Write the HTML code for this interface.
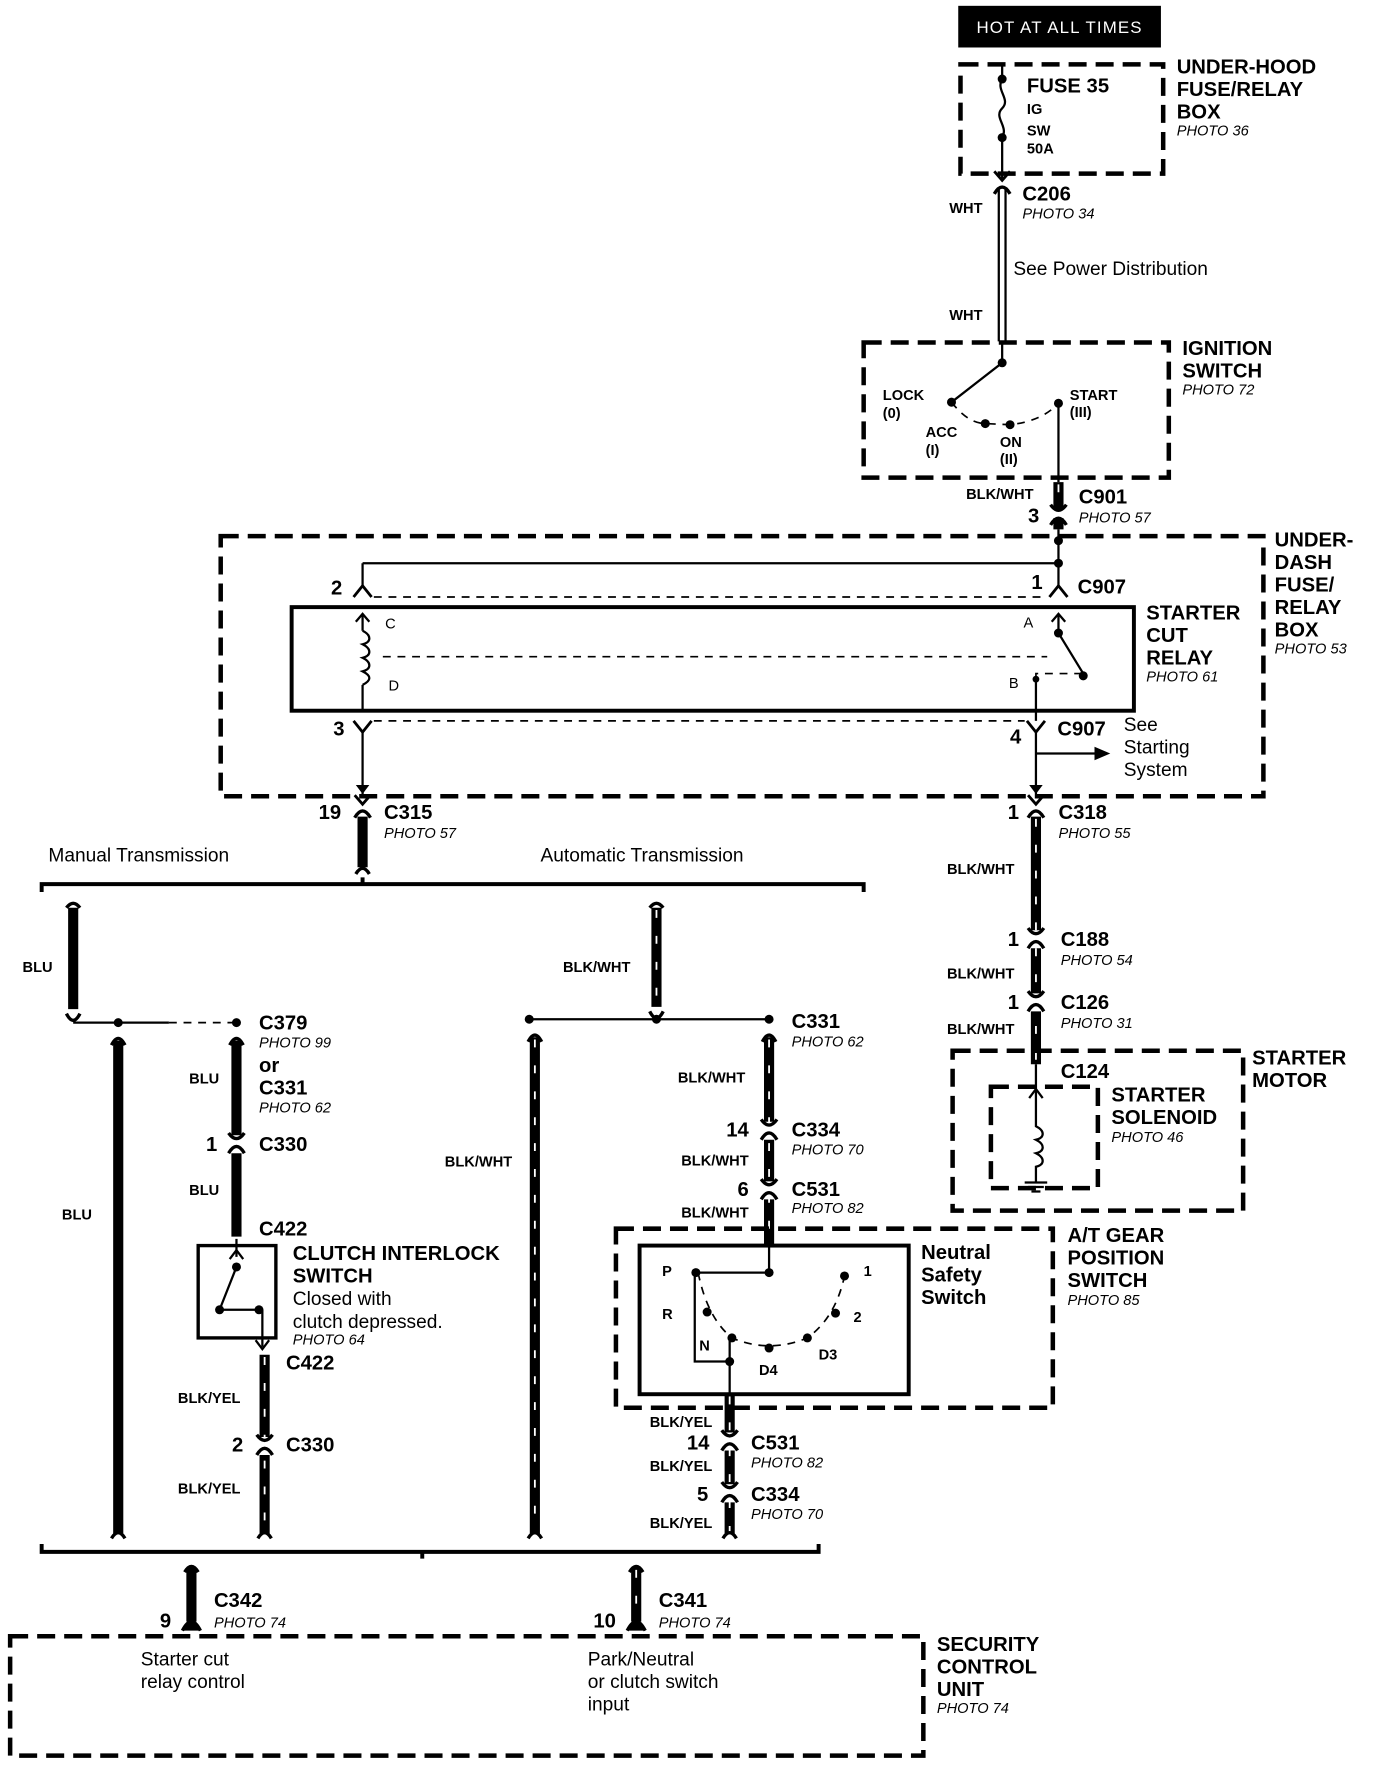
<!DOCTYPE html>
<html><head><meta charset="utf-8"><style>
html,body{margin:0;padding:0;background:#fff}
svg{display:block}
text{font-family:"Liberation Sans",Arial,sans-serif;fill:#000}
.b{font-weight:bold;font-size:18px}
.s{font-weight:bold;font-size:13px}
.i{font-style:italic;font-size:13px}
.n{font-size:17px}
.w{fill:none;stroke:#000;stroke-width:2}
.t{fill:none;stroke:#000;stroke-width:9}
.st{fill:none;stroke:#fff;stroke-width:1.6;stroke-dasharray:7 16}
.d{fill:none;stroke:#000;stroke-width:4;stroke-dasharray:16 8}
.da{fill:none;stroke:#000;stroke-width:1.5;stroke-dasharray:7 6}
</style></head><body>
<svg width="1376" height="1766" viewBox="0 0 1222 1568" xmlns="http://www.w3.org/2000/svg">
<defs>
<g id="c"><path d="M-7,-8 L0,0 L7,-8" fill="none" stroke="#000" stroke-width="2.5"/><path d="M-7,12 Q0,0 7,12" fill="none" stroke="#000" stroke-width="3"/></g>
<g id="ct"><path d="M-7,-6 Q0,4 7,-6" fill="none" stroke="#000" stroke-width="3"/><path d="M-7,12 Q0,0 7,12" fill="none" stroke="#000" stroke-width="3"/></g>
</defs>

<!-- HOT -->
<rect x="851" y="5" width="180" height="37" fill="#000"/>
<text x="941" y="29" text-anchor="middle" style="fill:#fff;font-size:15px;letter-spacing:1px">HOT AT ALL TIMES</text>

<!-- under-hood -->
<rect x="853" y="57" width="180" height="97" class="d"/>
<path class="w" d="M890,57 V70 M890,70 C884,80 898,88 890,96 C882,104 896,112 890,122 V158"/>
<circle cx="890" cy="70" r="4"/><circle cx="890" cy="122" r="4"/>
<text x="912" y="82" class="b">FUSE 35</text>
<text x="912" y="101" class="s">IG</text><text x="912" y="120" class="s">SW</text><text x="912" y="136" class="s">50A</text>
<text x="1045" y="65" class="b">UNDER-HOOD</text><text x="1045" y="85" class="b">FUSE/RELAY</text><text x="1045" y="105" class="b">BOX</text><text x="1045" y="120" class="i">PHOTO 36</text>
<use href="#c" x="890" y="160"/>
<text x="908" y="178" class="b">C206</text><text x="908" y="194" class="i">PHOTO 34</text>
<path class="w" d="M887,168 V303 M893,168 V303"/>
<text x="843" y="189" class="s">WHT</text><text x="843" y="284" class="s">WHT</text>
<text x="900" y="244" class="n">See Power Distribution</text>

<!-- ignition -->
<rect x="767" y="304" width="271" height="120" class="d"/>
<path class="w" d="M890,303 V322 L845,357"/>
<circle cx="890" cy="322" r="4"/><circle cx="845" cy="357" r="4"/>
<path class="da" d="M845,357 Q860,376 875,376 L897,377 Q925,374 940,358"/>
<circle cx="875" cy="376" r="4"/><circle cx="897" cy="377" r="4"/><circle cx="940" cy="358" r="4"/>
<path class="w" d="M940,358 V428"/>
<text x="784" y="355" class="s">LOCK</text><text x="784" y="371" class="s">(0)</text>
<text x="822" y="388" class="s">ACC</text><text x="822" y="404" class="s">(I)</text>
<text x="888" y="397" class="s">ON</text><text x="888" y="412" class="s">(II)</text>
<text x="950" y="355" class="s">START</text><text x="950" y="370" class="s">(III)</text>
<text x="1050" y="315" class="b">IGNITION</text><text x="1050" y="335" class="b">SWITCH</text><text x="1050" y="350" class="i">PHOTO 72</text>
<path class="t" d="M940,428 V452 M940,460 V470"/><path class="st" d="M940,430 V470"/>
<use href="#ct" x="940" y="454"/>
<text x="858" y="443" class="s">BLK/WHT</text><text x="958" y="447" class="b">C901</text><text x="913" y="464" class="b">3</text><text x="958" y="464" class="i">PHOTO 57</text>

<!-- under-dash -->
<rect x="196" y="476" width="926" height="231" class="d"/>
<text x="1132" y="485" class="b">UNDER-</text><text x="1132" y="505" class="b">DASH</text><text x="1132" y="525" class="b">FUSE/</text><text x="1132" y="545" class="b">RELAY</text><text x="1132" y="565" class="b">BOX</text><text x="1132" y="580" class="i">PHOTO 53</text>
<path class="w" d="M940,470 V522 M322,500 H940 M322,500 V522"/>
<circle cx="940" cy="480" r="4"/><circle cx="940" cy="500" r="4"/>
<path d="M314,530 L322,520 L330,530 M932,530 L940,520 L948,530" fill="none" stroke="#000" stroke-width="2.5"/>
<path class="da" d="M332,530 H930"/>
<text x="294" y="528" class="b">2</text><text x="916" y="523" class="b">1</text><text x="957" y="527" class="b">C907</text>
<rect x="259" y="539" width="748" height="92" fill="none" stroke="#000" stroke-width="3.5"/>
<path class="w" d="M322,545 V560 M322,608 V630"/>
<path d="M316,552 L322,545 L328,552" fill="none" stroke="#000" stroke-width="2"/>
<path class="w" d="M322,560 c8,4 8,10 0,12 c8,4 8,10 0,12 c8,4 8,10 0,12 c8,4 8,8 0,12"/>
<text x="342" y="558" class="s" style="font-weight:normal">C</text><text x="345" y="613" class="s" style="font-weight:normal">D</text>
<text x="909" y="557" class="s" style="font-weight:normal">A</text><text x="896" y="611" class="s" style="font-weight:normal">B</text>
<path class="da" d="M340,583 H930"/>
<path class="w" d="M940,545 V562 L962,598"/>
<path d="M934,552 L940,545 L946,552" fill="none" stroke="#000" stroke-width="2"/>
<circle cx="940" cy="562" r="4"/><circle cx="962" cy="600" r="4"/>
<path class="da" d="M920,603 L920,598 H962"/>
<circle cx="920" cy="603" r="3"/>
<path class="w" d="M920,603 V640"/>
<text x="1018" y="550" class="b">STARTER</text><text x="1018" y="570" class="b">CUT</text><text x="1018" y="590" class="b">RELAY</text><text x="1018" y="605" class="i">PHOTO 61</text>
<path d="M314,640 L322,650 L330,640 M912,640 L920,650 L928,640" fill="none" stroke="#000" stroke-width="2.5"/>
<path class="da" d="M332,640 H910"/>
<path class="w" d="M322,650 V705 M920,650 V705 M920,669 H975"/>
<path d="M316,697 L322,705 L328,697 M914,697 L920,705 L926,697"/>
<path d="M972,663 L986,669 L972,675 Z"/>
<text x="296" y="653" class="b">3</text><text x="897" y="660" class="b">4</text><text x="939" y="653" class="b">C907</text>
<text x="998" y="649" class="n">See</text><text x="998" y="669" class="n">Starting</text><text x="998" y="689" class="n">System</text>

<!-- C315 -->
<use href="#c" x="322" y="714"/>
<path class="t" d="M322,725 V770"/>
<path d="M316,776 Q322,766 328,776" fill="none" stroke="#000" stroke-width="3"/>
<text x="283" y="727" class="b">19</text><text x="341" y="727" class="b">C315</text><text x="341" y="744" class="i">PHOTO 57</text>
<text x="43" y="765" class="n">Manual Transmission</text><text x="480" y="765" class="n">Automatic Transmission</text>
<path d="M37,792 V785 H767 V792 M322,785 V779" fill="none" stroke="#000" stroke-width="3.5"/>

<!-- starter path -->
<use href="#c" x="920" y="714"/>
<path class="t" d="M920,725 V826 M920,842 V882 M920,898 V945"/><path class="st" d="M920,727 V945"/>
<use href="#ct" x="920" y="830"/><use href="#ct" x="920" y="886"/>
<text x="895" y="727" class="b">1</text><text x="940" y="727" class="b">C318</text><text x="940" y="744" class="i">PHOTO 55</text>
<text x="841" y="776" class="s">BLK/WHT</text>
<text x="895" y="840" class="b">1</text><text x="942" y="840" class="b">C188</text><text x="942" y="857" class="i">PHOTO 54</text>
<text x="841" y="869" class="s">BLK/WHT</text>
<text x="895" y="896" class="b">1</text><text x="942" y="896" class="b">C126</text><text x="942" y="913" class="i">PHOTO 31</text>
<text x="841" y="918" class="s">BLK/WHT</text>
<text x="942" y="957" class="b">C124</text>
<rect x="846" y="933" width="258" height="142" class="d"/>
<rect x="880" y="965" width="95" height="90" class="d"/>
<path d="M914,975 L920,967 L926,975" fill="none" stroke="#000" stroke-width="2"/>
<path class="w" d="M920,945 V1000 c8,4 8,10 0,12 c8,4 8,10 0,12 c8,4 8,10 0,12 V1050 M910,1050 H930 M913,1054 H927 M916,1058 H924"/>
<text x="987" y="978" class="b">STARTER</text><text x="987" y="998" class="b">SOLENOID</text><text x="987" y="1014" class="i">PHOTO 46</text>
<text x="1112" y="945" class="b">STARTER</text><text x="1112" y="965" class="b">MOTOR</text>

<!-- manual -->
<path d="M59,806 Q65,798 71,806" fill="none" stroke="#000" stroke-width="3"/>
<path class="t" d="M65,806 V896"/>
<path d="M59,900 Q65,912 71,900" fill="none" stroke="#000" stroke-width="3"/>
<text x="20" y="863" class="s">BLU</text>
<path class="w" d="M65,908 H150"/><path class="da" d="M150,908 H210"/>
<circle cx="105" cy="908" r="4"/><circle cx="210" cy="908" r="4"/>
<path d="M99,928 Q105,916 111,928 M204,928 Q210,916 216,928" fill="none" stroke="#000" stroke-width="3"/>
<path class="t" d="M105,924 V1362 M210,924 V1008 M210,1024 V1098"/>
<use href="#ct" x="210" y="1012"/>
<text x="230" y="914" class="b">C379</text><text x="230" y="930" class="i">PHOTO 99</text>
<text x="230" y="952" class="b">or</text><text x="230" y="972" class="b">C331</text><text x="230" y="988" class="i">PHOTO 62</text>
<text x="168" y="962" class="s">BLU</text><text x="55" y="1083" class="s">BLU</text>
<text x="183" y="1022" class="b">1</text><text x="230" y="1022" class="b">C330</text>
<text x="168" y="1061" class="s">BLU</text>
<text x="230" y="1097" class="b">C422</text>
<rect x="176" y="1106" width="69" height="82" fill="none" stroke="#000" stroke-width="3"/>
<path class="w" d="M210,1100 V1116 M210,1125 L195,1163 M195,1163 H230 M233,1163 V1196"/>
<path d="M204,1118 L210,1110 L216,1118" fill="none" stroke="#000" stroke-width="2"/>
<circle cx="210" cy="1125" r="4"/><circle cx="195" cy="1163" r="4"/><circle cx="230" cy="1163" r="4"/>
<path d="M227,1190 L233,1198 L239,1190" fill="none" stroke="#000" stroke-width="2"/>
<text x="260" y="1119" class="b">CLUTCH INTERLOCK</text><text x="260" y="1139" class="b">SWITCH</text>
<text x="260" y="1159" class="n">Closed with</text><text x="260" y="1179" class="n">clutch depressed.</text><text x="260" y="1194" class="i">PHOTO 64</text>
<path class="t" d="M235,1203 V1276 M235,1292 V1362"/><path class="st" d="M235,1205 V1362"/>
<use href="#ct" x="235" y="1280"/>
<text x="254" y="1216" class="b">C422</text>
<text x="158" y="1246" class="s">BLK/YEL</text>
<text x="206" y="1289" class="b">2</text><text x="254" y="1289" class="b">C330</text>
<text x="158" y="1326" class="s">BLK/YEL</text>

<!-- auto -->
<path d="M577,806 Q583,798 589,806" fill="none" stroke="#000" stroke-width="3"/>
<path class="t" d="M583,806 V894"/><path class="st" d="M583,808 V894"/>
<path d="M577,898 Q583,910 589,898" fill="none" stroke="#000" stroke-width="3"/>
<text x="500" y="863" class="s">BLK/WHT</text>
<path class="w" d="M470,905 H683"/>
<circle cx="470" cy="905" r="4"/><circle cx="583" cy="905" r="4"/><circle cx="683" cy="905" r="4"/>
<path d="M469,925 Q475,913 481,925 M677,925 Q683,913 689,925" fill="none" stroke="#000" stroke-width="3"/>
<path class="t" d="M475,921 V1362 M683,921 V996 M683,1012 V1049 M683,1065 V1105"/>
<path class="st" d="M475,923 V1362 M683,923 V1105"/>
<use href="#ct" x="683" y="1000"/><use href="#ct" x="683" y="1053"/>
<text x="703" y="913" class="b">C331</text><text x="703" y="929" class="i">PHOTO 62</text>
<text x="602" y="961" class="s">BLK/WHT</text><text x="395" y="1036" class="s">BLK/WHT</text>
<text x="645" y="1009" class="b">14</text><text x="703" y="1009" class="b">C334</text><text x="703" y="1025" class="i">PHOTO 70</text>
<text x="605" y="1035" class="s">BLK/WHT</text>
<text x="655" y="1062" class="b">6</text><text x="703" y="1062" class="b">C531</text><text x="703" y="1077" class="i">PHOTO 82</text>
<text x="605" y="1081" class="s">BLK/WHT</text>
<rect x="547" y="1091" width="388" height="159" class="d"/>
<rect x="568" y="1106" width="239" height="132" fill="none" stroke="#000" stroke-width="3.5"/>
<path class="w" d="M683,1106 V1130 H620 M617,1130 V1209 H648 M648,1188 V1238"/>
<path class="da" d="M620,1130 Q628,1170 650,1188 Q683,1202 717,1188 Q742,1170 750,1133"/>
<circle cx="683" cy="1130" r="4"/><circle cx="618" cy="1130" r="4"/><circle cx="750" cy="1133" r="4"/>
<circle cx="628" cy="1165" r="4"/><circle cx="650" cy="1188" r="4"/><circle cx="683" cy="1197" r="4"/>
<circle cx="717" cy="1188" r="4"/><circle cx="742" cy="1166" r="4"/><circle cx="648" cy="1209" r="4"/>
<text x="588" y="1133" class="s">P</text><text x="767" y="1133" class="s">1</text><text x="588" y="1171" class="s">R</text>
<text x="758" y="1174" class="s">2</text><text x="621" y="1199" class="s">N</text><text x="674" y="1221" class="s">D4</text><text x="727" y="1207" class="s">D3</text>
<text x="818" y="1118" class="b">Neutral</text><text x="818" y="1138" class="b">Safety</text><text x="818" y="1158" class="b">Switch</text>
<text x="948" y="1103" class="b">A/T GEAR</text><text x="948" y="1123" class="b">POSITION</text><text x="948" y="1143" class="b">SWITCH</text><text x="948" y="1159" class="i">PHOTO 85</text>
<path class="t" d="M648,1238 V1272 M648,1288 V1318 M648,1334 V1362"/><path class="st" d="M648,1240 V1362"/>
<use href="#ct" x="648" y="1276"/><use href="#ct" x="648" y="1322"/>
<text x="577" y="1267" class="s">BLK/YEL</text>
<text x="610" y="1287" class="b">14</text><text x="667" y="1287" class="b">C531</text><text x="667" y="1303" class="i">PHOTO 82</text>
<text x="577" y="1306" class="s">BLK/YEL</text>
<text x="619" y="1333" class="b">5</text><text x="667" y="1333" class="b">C334</text><text x="667" y="1349" class="i">PHOTO 70</text>
<text x="577" y="1357" class="s">BLK/YEL</text>
<path d="M99,1366 Q105,1356 111,1366 M229,1366 Q235,1356 241,1366 M469,1366 Q475,1356 481,1366 M642,1366 Q648,1356 654,1366" fill="none" stroke="#000" stroke-width="3"/>

<!-- bottom bus -->
<path d="M37,1371 V1378 H727 V1371 M375,1378 V1384" fill="none" stroke="#000" stroke-width="3.5"/>
<path d="M164,1396 Q170,1386 176,1396 M559,1396 Q565,1386 571,1396" fill="none" stroke="#000" stroke-width="3"/>
<path class="t" d="M170,1392 V1440 M565,1392 V1440"/><path class="st" d="M565,1394 V1440"/>
<path d="M162,1448 Q170,1432 178,1448 M557,1448 Q565,1432 573,1448" fill="#000" stroke="#000" stroke-width="3"/>
<text x="142" y="1445" class="b">9</text><text x="190" y="1427" class="b">C342</text><text x="190" y="1445" class="i">PHOTO 74</text>
<text x="527" y="1445" class="b">10</text><text x="585" y="1427" class="b">C341</text><text x="585" y="1445" class="i">PHOTO 74</text>
<rect x="9" y="1453" width="811" height="106" class="d"/>
<text x="125" y="1479" class="n">Starter cut</text><text x="125" y="1499" class="n">relay control</text>
<text x="522" y="1479" class="n">Park/Neutral</text><text x="522" y="1499" class="n">or clutch switch</text><text x="522" y="1519" class="n">input</text>
<text x="832" y="1466" class="b">SECURITY</text><text x="832" y="1486" class="b">CONTROL</text><text x="832" y="1506" class="b">UNIT</text><text x="832" y="1521" class="i">PHOTO 74</text>
</svg>
</body></html>
